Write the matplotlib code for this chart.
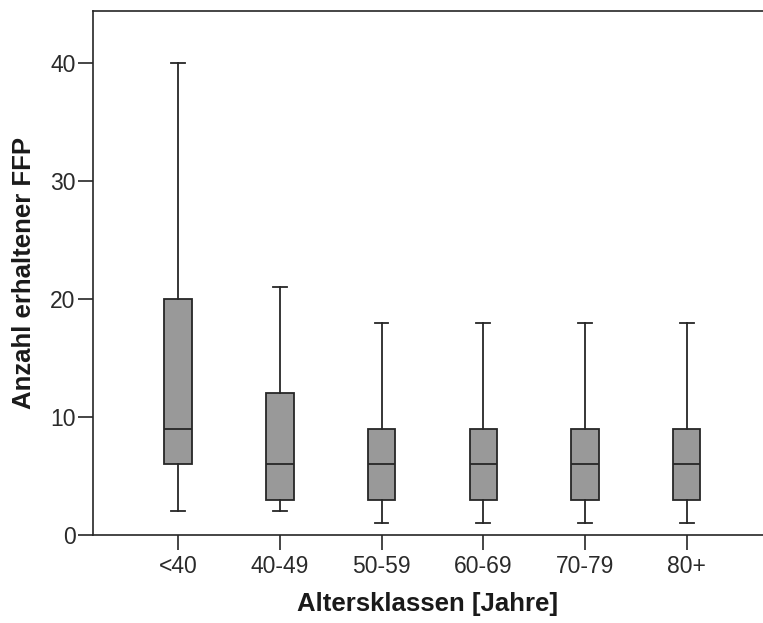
import matplotlib
matplotlib.use("Agg")
import matplotlib.pyplot as plt

plt.rcParams['font.family'] = ['Liberation Sans', 'DejaVu Sans']

categories = ["<40", "40-49", "50-59", "60-69", "70-79", "80+"]
whisker_low = [2, 2, 1, 1, 1, 1]
q1 = [6, 3, 3, 3, 3, 3]
median = [9, 6, 6, 6, 6, 6]
q3 = [20, 12, 9, 9, 9, 9]
whisker_high = [40, 21, 18, 18, 18, 18]

stats = []
for i, name in enumerate(categories):
    stats.append({"label": name, "whislo": whisker_low[i], "q1": q1[i],
                  "med": median[i], "q3": q3[i], "whishi": whisker_high[i],
                  "fliers": []})

fig = plt.figure(figsize=(7.63, 6.23), dpi=100)
ax = fig.add_axes([0.1219, 0.1413, 0.8781, 0.8411])

line = "#262626"
ax.bxp(stats, positions=range(len(categories)), widths=0.27, patch_artist=True,
       showfliers=False,
       boxprops=dict(facecolor="#999999", edgecolor=line, linewidth=1.3),
       medianprops=dict(color=line, linewidth=1.3),
       whiskerprops=dict(color=line, linewidth=1.3),
       capprops=dict(color=line, linewidth=1.3),
       capwidths=0.135)

ax.set_xlim(-0.836, 5.75)
ax.set_ylim(0, 44.4)
ax.set_yticks([0, 10, 20, 30, 40])
ax.set_xticks(range(len(categories)))
ax.set_xticklabels(categories)

for s in ["top", "left", "bottom"]:
    ax.spines[s].set_linewidth(1.2)
    ax.spines[s].set_color(line)
ax.spines["right"].set_visible(False)

ax.tick_params(axis="both", direction="out", length=10.5, width=1.2, color=line,
               labelsize=16.5, labelcolor="#2a2a2a")
ax.tick_params(axis="y", pad=2)
ax.tick_params(axis="x", pad=4)

ax.set_xlabel("Altersklassen [Jahre]", fontsize=18.5, fontweight="bold", color="#1a1a1a", labelpad=10)
ax.set_ylabel("Anzahl erhaltener FFP", fontsize=18.5, fontweight="bold", color="#1a1a1a", labelpad=10)

fig.savefig("out.png", dpi=100)
